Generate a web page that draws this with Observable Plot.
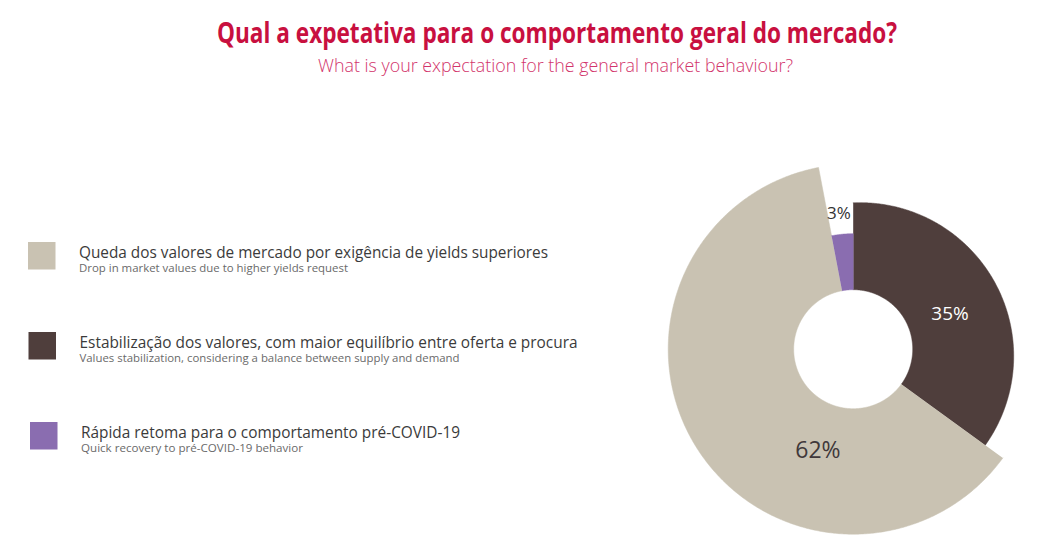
<!DOCTYPE html>
<html>
<head>
<meta charset="utf-8">
<script src="https://cdn.jsdelivr.net/npm/d3@7"></script>
<script src="https://cdn.jsdelivr.net/npm/@observablehq/plot@0.6"></script>
<style>
  html, body { margin: 0; padding: 0; background: #fff; overflow: hidden; }
  body { width: 1051px; height: 546px; font-family: "Open Sans", sans-serif; }
  #header { display: block; overflow: visible; }
</style>
</head>
<body>
<svg id="header" width="1051" height="90" xmlns="http://www.w3.org/2000/svg">
  <text id="title" x="557" y="43" text-anchor="middle" font-family="Open Sans" font-weight="700" font-size="29" fill="#c8103f" lengthAdjust="spacingAndGlyphs" textLength="680">Qual a expetativa para o comportamento geral do mercado?</text>
  <text id="subtitle" x="555.5" y="72" text-anchor="middle" font-family="Open Sans" font-weight="300" font-size="18" fill="#d2346b" lengthAdjust="spacingAndGlyphs" textLength="475">What is your expectation for the general market behaviour?</text>
</svg>
<div id="chart"></div>
<script>
// ---- data ----
const categories = [
  "Queda dos valores de mercado por exigência de yields superiores",
  "Estabilização dos valores, com maior equilíbrio entre oferta e procura",
  "Rápida retoma para o comportamento pré-COVID-19"
];
const subLabels = [
  "Drop in market values due to higher yields request",
  "Values stabilization, considering a balance between supply and demand",
  "Quick recovery to pré-COVID-19 behavior"
];
const shares = [62, 35, 3];
const valueLabels = ["62%", "35%", "3%"];
// order of slices clockwise from 12 o'clock
const pieOrder = [categories[1], categories[0], categories[2]];

// ---- style / layout ----
const colors = ["#c9c2b2", "#4f3e3c", "#8a6db0"];
const HEADER = 90, W = 1051, H = 546 - HEADER;
const cx = 852.7, cy = 348.7, rInner = 59.5;
const outerShape = [
  {type: "circle", r: 185},
  {type: "offset", dx: 7, dy: 7, R: 153.5},
  {type: "circle", r: 115.5}
];
const labelStyle = [
  {f: 0.328, r: 107.2, size: 23, color: "#40383a"},
  {f: 0.554, r: 103.2, size: 19, color: "#ffffff"},
  {f: 0.44,  r: 136,   size: 17, color: "#333333"}
];
const legendTop = 242, legendStep = 90, swatch = 27.5;
const legendXOff = [0, 0.5, 2];
const mainWidths = [469, 498, 379];
const subWidths = [269, 380, 222];

// ---- geometry from data ----
const TAU = Math.PI * 2;
function outerR(idx, th) {
  const o = outerShape[idx];
  if (o.type === "circle") return o.r;
  const ux = Math.sin(th), uy = -Math.cos(th);
  const ud = ux * o.dx + uy * o.dy;
  return ud + Math.sqrt(ud * ud - (o.dx * o.dx + o.dy * o.dy) + o.R * o.R);
}
const total = d3.sum(shares);
let acc = 0;
const slices = pieOrder.map(k => {
  const idx = categories.indexOf(k);
  const a0 = acc / total * TAU;
  acc += shares[idx];
  return {key: k, idx, a0, a1: acc / total * TAU};
});
const pts = [];
for (const s of slices) {
  const n = Math.max(4, Math.ceil((s.a1 - s.a0) / (Math.PI / 360)));
  for (let i = 0; i <= n; i++) {
    const th = s.a0 + (s.a1 - s.a0) * i / n;
    const r = outerR(s.idx, th);
    pts.push({key: s.key, x: cx + r * Math.sin(th), y: cy - r * Math.cos(th)});
  }
  for (let i = n; i >= 0; i--) {
    const th = s.a0 + (s.a1 - s.a0) * i / n;
    pts.push({key: s.key, x: cx + rInner * Math.sin(th), y: cy - rInner * Math.cos(th)});
  }
}
const labels = slices.map(s => {
  const st = labelStyle[s.idx];
  const th = s.a0 + (s.a1 - s.a0) * st.f;
  return {text: valueLabels[s.idx], x: cx + st.r * Math.sin(th), y: cy - st.r * Math.cos(th), ...st};
});
const legendRows = categories.map((k, i) => {
  const top = legendTop + i * legendStep;
  const x = 28 + legendXOff[i];
  return {key: k, sub: subLabels[i], x1: x, x2: x + swatch, y1: top, y2: top + swatch,
          tx: 78.5 + legendXOff[i], by: top + 15, sy: top + 29.5};
});

const chart = Plot.plot({
  width: W, height: H, margin: 0,
  x: {domain: [0, W], range: [0, W], axis: null},
  y: {domain: [HEADER, 546], range: [0, H], axis: null},
  color: {domain: categories, range: colors},
  style: {fontFamily: "Open Sans", background: "#fff", overflow: "visible"},
  marks: [
    Plot.line(pts, {x: "x", y: "y", z: "key", fill: "key", stroke: "key", strokeWidth: 0.5}),
    ...labels.map(l => Plot.text([l], {x: "x", y: "y", text: "text", fill: l.color, fontSize: l.size,
      textAnchor: "middle", lineAnchor: "middle"})),
    Plot.rect(legendRows, {x1: "x1", x2: "x2", y1: "y1", y2: "y2", fill: "key"}),
    Plot.text(legendRows, {x: "tx", y: "by", text: "key", textAnchor: "start", lineAnchor: "bottom",
      fontSize: 17, fill: "#3b3b3b", ariaDescription: "legend-main"}),
    Plot.text(legendRows, {x: "tx", y: "sy", text: "sub", textAnchor: "start", lineAnchor: "bottom",
      fontSize: 11.5, fill: "#6a6a6a", ariaDescription: "legend-sub"})
  ]
});
document.getElementById("chart").appendChild(chart);
function fit(desc, widths) {
  chart.querySelectorAll(`g[aria-description="${desc}"] text`).forEach((t, i) => {
    t.setAttribute("textLength", widths[i]);
    t.setAttribute("lengthAdjust", "spacingAndGlyphs");
  });
}
fit("legend-main", mainWidths);
fit("legend-sub", subWidths);
</script>
</body>
</html>
